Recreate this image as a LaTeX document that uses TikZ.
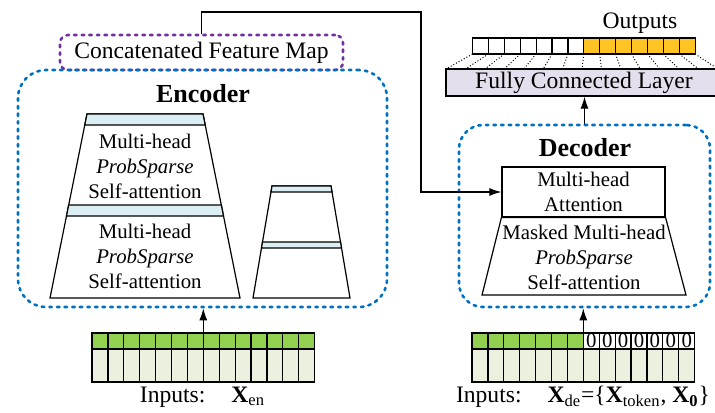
\documentclass[tikz,border=0pt]{standalone}
\usepackage{fontspec}
\setmainfont{Liberation Serif}
\usetikzlibrary{arrows.meta}

\definecolor{dashblue}{RGB}{0,112,192}
\definecolor{dashpurple}{RGB}{112,48,160}
\definecolor{barblue}{RGB}{218,238,243}
\definecolor{topgreen}{RGB}{146,208,80}
\definecolor{palegreen}{RGB}{235,241,222}
\definecolor{fclilac}{RGB}{228,223,236}
\definecolor{outorange}{RGB}{255,196,36}

\tikzset{
  arr/.style={-{Latex[length=6pt,width=4pt]}, line width=0.6pt},
  encbox/.style={draw=dashblue, line width=1.3pt, line cap=round, dash pattern=on 1.3pt off 2.5pt, rounded corners=14pt},
  cfmbox/.style={draw=dashpurple, line width=1.3pt, line cap=round, dash pattern=on 1.3pt off 2.5pt, rounded corners=4pt},
  attn/.style={align=center, inner sep=0pt, font=\fontsize{10.4}{12.5}\selectfont},
  big/.style={font=\fontsize{11.8}{14}\selectfont},
  title/.style={font=\fontsize{13}{15}\selectfont\bfseries}
}

\begin{document}
\begin{tikzpicture}[x=0.5pt,y=-0.5pt,line width=0.6pt]
\useasboundingbox (0,0) rectangle (715,412);

% Concatenated Feature Map
\node[cfmbox, big, minimum width=141.5pt, minimum height=17.5pt] (cfm) at (201.5,52.5) {Concatenated Feature Map};

% Encoder
\node[encbox, minimum width=184.5pt, minimum height=118.5pt] (enc) at (202.5,188.5) {};
\node[title] (enctitle) at (203,93.5) {Encoder};
\draw[fill=white] (87,114) -- (203,114) -- (240,298) -- (50,298) -- cycle;
\draw[fill=barblue] (87,114) -- (203,114) -- (205.2,125) -- (84.8,125) -- cycle;
\draw[fill=barblue] (68.7,205) -- (221.3,205) -- (223.5,216) -- (66.5,216) -- cycle;
\node[attn] (enc1) at (145,166) {Multi-head\\\textit{ProbSparse}\\Self-attention};
\node[attn] (enc2) at (145,256.5) {Multi-head\\\textit{ProbSparse}\\Self-attention};
\draw[fill=white] (272,186) -- (331,186) -- (350,298) -- (253,298) -- cycle;
\draw[fill=barblue] (272,186) -- (331,186) -- (332,192) -- (271,192) -- cycle;
\draw[fill=barblue] (262.5,242) -- (340.5,242) -- (341.5,248) -- (261.5,248) -- cycle;

% Encoder inputs
\foreach \i in {0,...,13} {
  \draw[fill=topgreen] ({92+\i*15.9},333) rectangle ++(15.9,16);
  \draw[fill=palegreen] ({92+\i*15.9},349) rectangle ++(15.9,33);
}
\coordinate (encin) at ({92+7*15.9},333);
\node[big] (enclabel) at (202.5,397) {Inputs:\hspace{1.1em}\textbf{X}\textsubscript{en}};
\draw[arr] (encin) -- (encin |- enc.south);

% Decoder
\node[encbox, rounded corners=12pt, minimum width=125.5pt, minimum height=91pt] (dec) at (584.5,216) {};
\node[title] (dectitle) at (585,147.5) {Decoder};
\node[attn, draw, minimum width=81.5pt, minimum height=25pt] (att) at (583.5,192) {Multi-head\\Attention};
\draw[fill=white] (att.south west) -- (att.south east) -- (686,295) -- (482,295) -- cycle;
\node[attn] (masked) at (584,257) {Masked Multi-head\\\textit{ProbSparse}\\Self-attention};

% Decoder inputs
\foreach \i in {0,...,13} {
  \draw[fill=palegreen] ({472+\i*15.9},349) rectangle ++(15.9,33);
}
\foreach \i in {0,...,6} {
  \draw[fill=topgreen] ({472+\i*15.9},333) rectangle ++(15.9,16);
}
\foreach \i in {7,...,13} {
  \draw[fill=white] ({472+\i*15.9},333) rectangle ++(15.9,16);
  \node[inner sep=0pt, font=\fontsize{10.4}{12}\selectfont] (z\i) at ({480+\i*15.9},341) {0};
}
\coordinate (decin) at ({472+7*15.9},333);
\node[big] (declabel) at (583,397) {Inputs:\hspace{1.1em}\textbf{X}\textsubscript{de}=\{\textbf{X}\textsubscript{token}, \textbf{X}\textsubscript{\textbf{0}}\}};
\draw[arr] (decin) -- (decin |- dec.south);

% Fully connected layer and outputs
\node[draw, fill=fclilac, big, minimum width=138pt, minimum height=13.5pt, inner sep=0pt] (fc) at (584,82.5) {Fully Connected Layer};
\draw[arr] (dec.north) -- (dec.north |- fc.south);
\foreach \i in {0,...,6} {
  \draw[fill=white] ({472.5+\i*15.9},38) rectangle ++(15.9,16);
}
\foreach \i in {7,...,13} {
  \draw[fill=outorange] ({472.5+\i*15.9},38) rectangle ++(15.9,16);
}
\foreach \k in {0,...,14} {
  \draw[densely dotted, line width=0.5pt] ({472.5+\k*15.9},54) -- ({446+\k*19.43},69);
}
\node[big] (outlabel) at (640,23) {Outputs};

% Feature map to decoder
\coordinate (turn) at (421,12);
\draw[arr] (cfm.north) |- (turn) |- (att.west);
\end{tikzpicture}
\end{document}
